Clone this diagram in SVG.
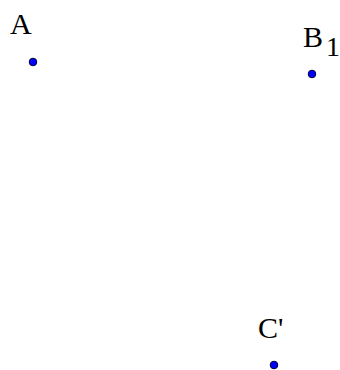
<svg xmlns="http://www.w3.org/2000/svg" width="340" height="370" viewBox="0 0 340 370">
<style>
.pt{fill:#0000ff;stroke:#000033;stroke-width:1}
.lb{font-family:"Liberation Serif",serif;font-size:30px;fill:#000}
</style>
<rect width="340" height="370" fill="#fff"/>
<g id="A"><circle class="pt" cx="33" cy="62" r="3.8"/><text class="lb" x="10" y="34">A</text></g>
<g id="B1"><circle class="pt" cx="312" cy="74" r="3.8"/><text class="lb" x="303" y="47">B<tspan font-size="28" dx="3" dy="9">1</tspan></text></g>
<g id="C"><circle class="pt" cx="274" cy="365" r="3.8"/><text class="lb" x="258" y="338">C'</text></g>
<g id="connectors"/>
</svg>
